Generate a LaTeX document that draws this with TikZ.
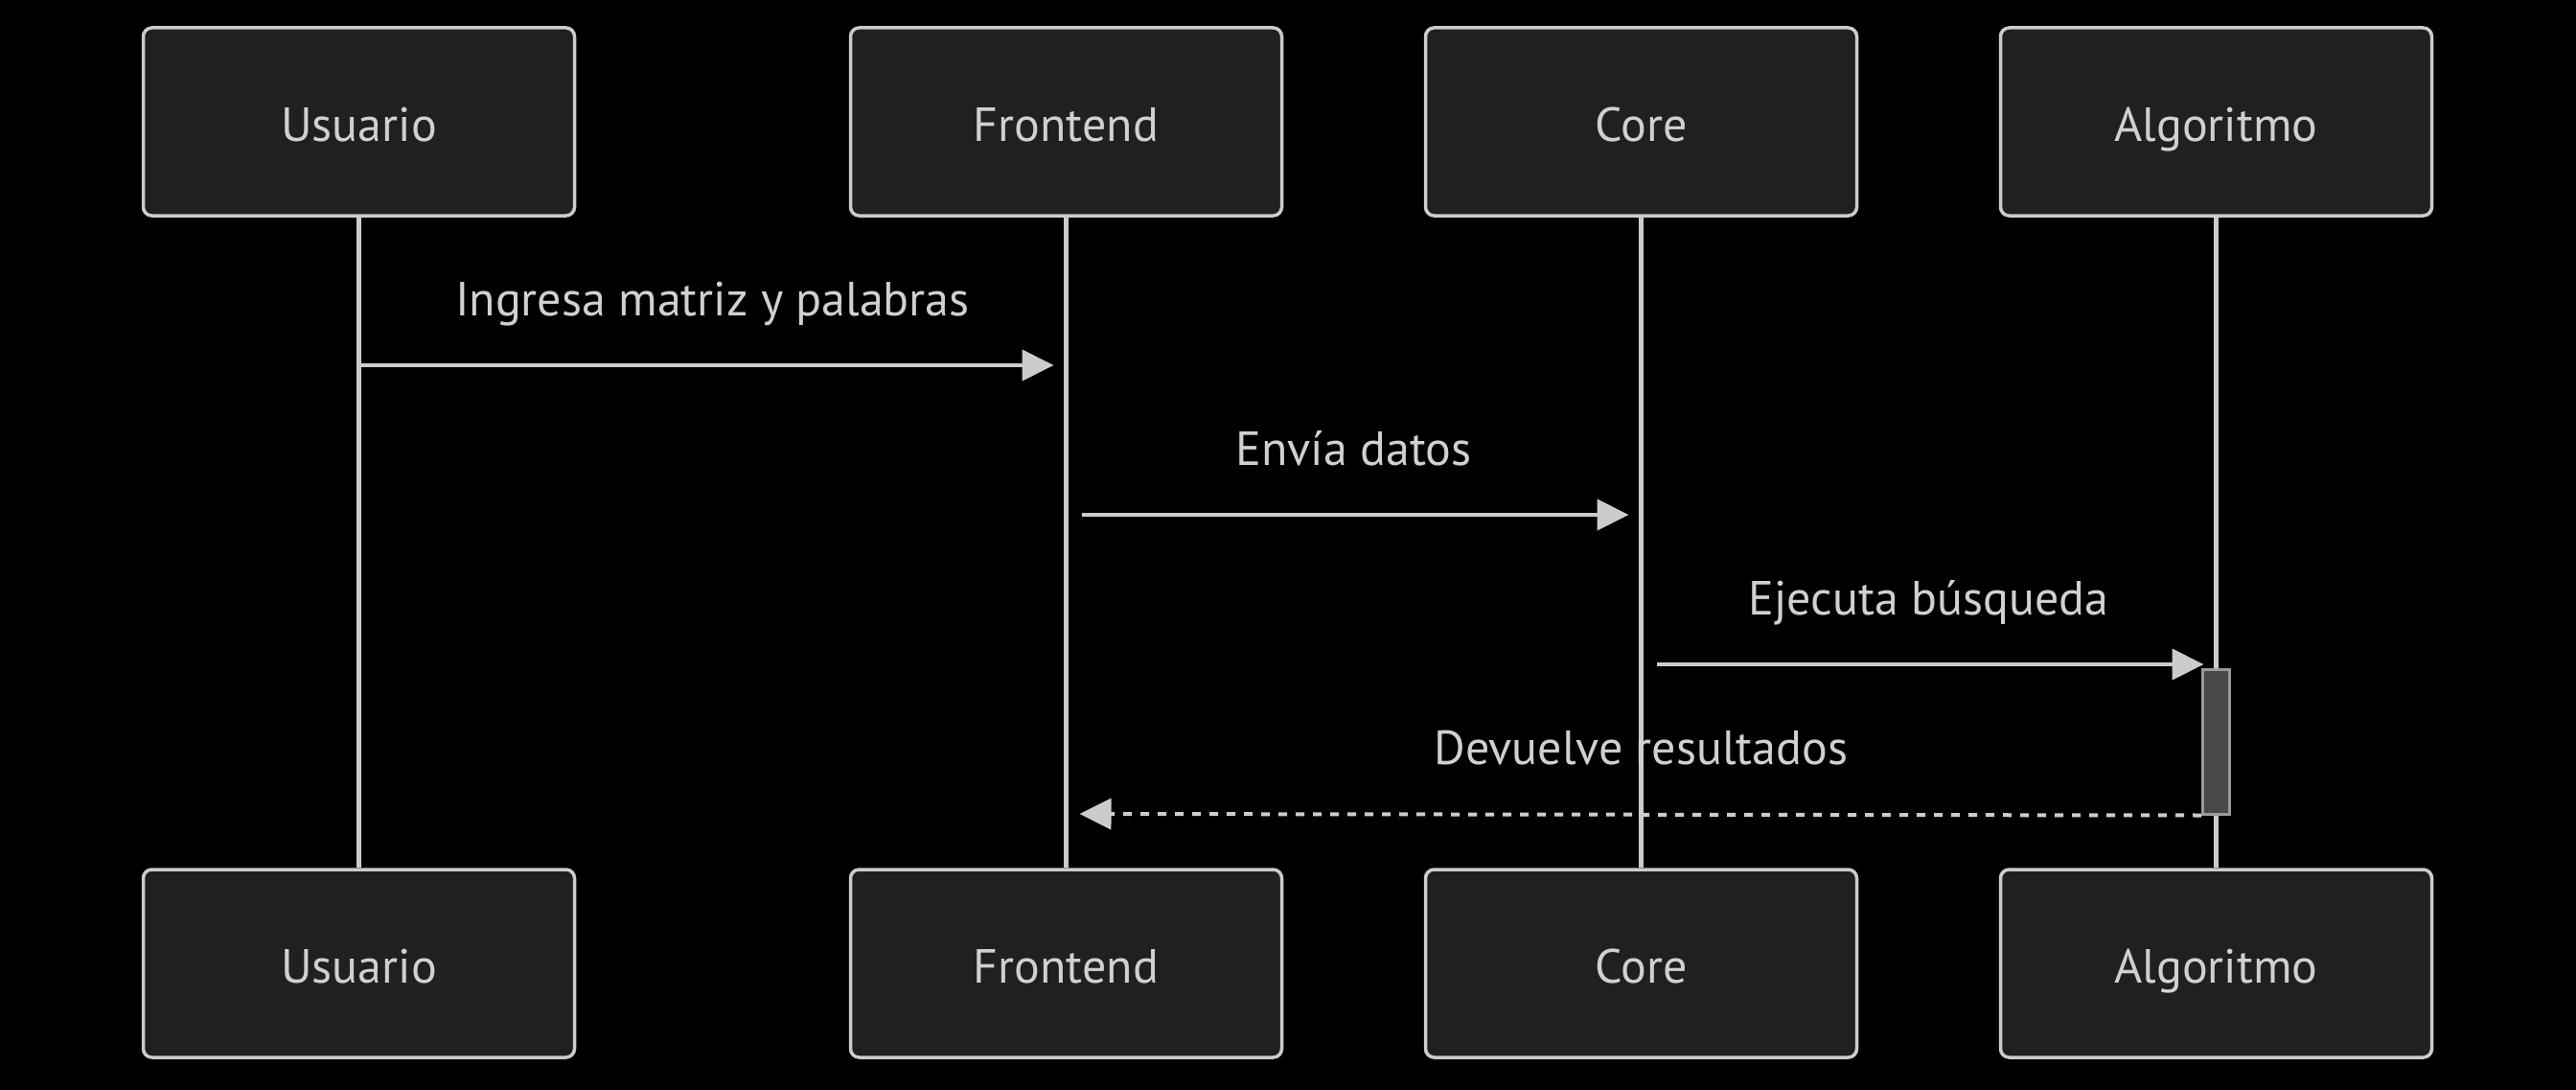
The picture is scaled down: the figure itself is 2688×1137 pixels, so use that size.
\documentclass[tikz,border=0pt]{standalone}
\usepackage{fontspec}
\setmainfont{PT Sans}
\usetikzlibrary{arrows.meta}
\definecolor{bgc}{HTML}{000000}
\definecolor{boxfill}{HTML}{1F2020}
\definecolor{linec}{HTML}{CCCCCC}
\definecolor{textc}{HTML}{D0D0D0}
\definecolor{actfill}{HTML}{484848}
\definecolor{actdraw}{HTML}{9A9A9A}
\tikzset{
  actor/.style={draw=linec, fill=boxfill, line width=3.5pt, rounded corners=9pt,
    minimum width=450pt, minimum height=196pt, text=textc, inner sep=0pt,
    text height=40pt, text depth=0pt,
    font=\fontsize{50}{60}\selectfont},
  lifeline/.style={draw=linec, line width=4.5pt},
  msg/.style={draw=linec, line width=4pt, -{Triangle[length=33pt,width=32pt]}},
  reply/.style={msg, dash pattern=on 9pt off 9pt},
  msglabel/.style={text=textc, inner sep=0pt, text height=36pt, text depth=10pt,
    font=\fontsize{50}{60}\selectfont},
  activation/.style={draw=actdraw, fill=actfill, line width=3pt, minimum width=28pt, inner sep=0pt}
}
\begin{document}
\begin{tikzpicture}[x=1pt,y=-1pt]
\fill[bgc] (0,0) rectangle (2688,1137);
\useasboundingbox (0,0) rectangle (2688,1137);
% actors top
\node[actor] (uT) at (374.5,127) {Usuario};
\node[actor] (fT) at (1112.5,127) {Frontend};
\node[actor] (cT) at (1712.5,127) {Core};
\node[actor] (aT) at (2312.5,127) {Algoritmo};
% actors bottom
\node[actor] (uB) at (374.5,1005) {Usuario};
\node[actor] (fB) at (1112.5,1005) {Frontend};
\node[actor] (cB) at (1712.5,1005) {Core};
\node[actor] (aB) at (2312.5,1005) {Algoritmo};
% lifelines
\draw[lifeline] (uT.south) -- (uB.north);
\draw[lifeline] (fT.south) -- (fB.north);
\draw[lifeline] (cT.south) -- (cB.north);
\draw[lifeline] (aT.south) -- (aB.north);
% rows
\coordinate (r1) at (0,381);
\coordinate (r2) at (0,537);
\coordinate (r3) at (0,693);
\coordinate (r4) at (0,849);
% activation
\node[activation, minimum height=151pt] (act) at (2312.5,773.5) {};
% messages
\draw[msg] (uT |- r1) -- ([xshift=-13pt]fT |- r1);
\node[msglabel] (l1) at (743.5,316) {Ingresa matriz y palabras};
\draw[msg] ([xshift=16pt]fT |- r2) -- ([xshift=-13pt]cT |- r2);
\node[msglabel] (l2) at (1412.5,472) {Envía datos};
\draw[msg] ([xshift=16pt]cT |- r3) -- ([xshift=-13pt]aT |- r3);
\node[msglabel] (l3) at (2012.5,628) {Ejecuta búsqueda};
\draw[reply] (act.south west) -- ([xshift=14pt]fT |- r4);
\node[msglabel] (l4) at (1712.5,784) {Devuelve resultados};
\end{tikzpicture}
\end{document}
